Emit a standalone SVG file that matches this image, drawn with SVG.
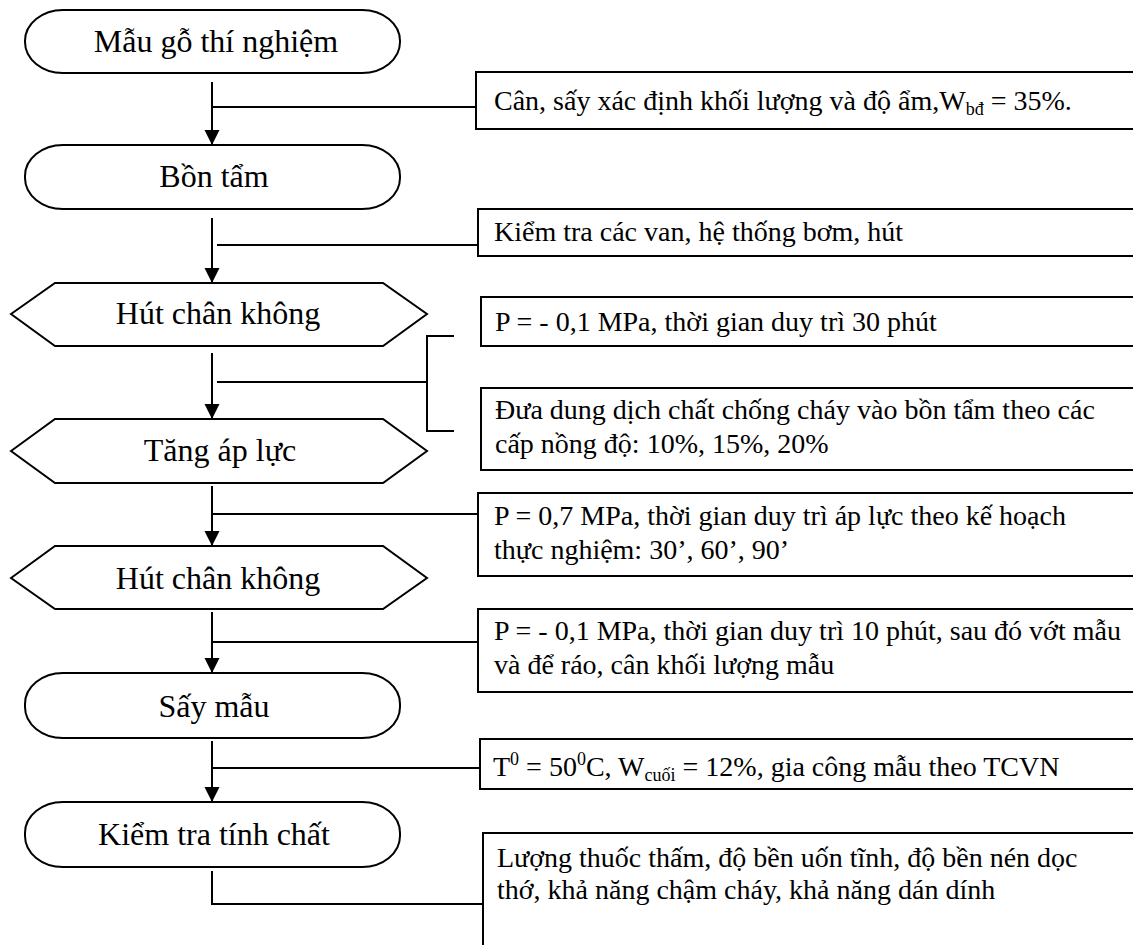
<svg xmlns="http://www.w3.org/2000/svg" width="1133" height="945" viewBox="0 0 1133 945">
<style>
  .shape { fill: #fff; stroke: #000; stroke-width: 2; }
  .box { fill: #fff; stroke: #000; stroke-width: 2; }
  .line { fill: none; stroke: #000; stroke-width: 2; }
  .ntext { font-family: "Liberation Serif", "Times New Roman", serif; font-size: 32px; fill: #000; text-anchor: middle; }
  .btext { font-family: "Liberation Serif", "Times New Roman", serif; font-size: 28px; fill: #000; }
  .small { font-size: 18px; }
</style>
<defs>
  <marker id="arrow" markerUnits="userSpaceOnUse" markerWidth="16" markerHeight="16" refX="15" refY="8" orient="auto">
    <path d="M0,0.5 L15,8 L0,15.5 Z" fill="#000"/>
  </marker>
</defs>
<rect width="1133" height="945" fill="#fff"/>

<g id="connectors">
  <line class="line" x1="212" y1="82" x2="212" y2="145" marker-end="url(#arrow)"/>
  <line class="line" x1="212" y1="107" x2="476" y2="107"/>
  <line class="line" x1="212" y1="218" x2="212" y2="283" marker-end="url(#arrow)"/>
  <line class="line" x1="217" y1="245" x2="478" y2="245"/>
  <line class="line" x1="212" y1="353" x2="212" y2="419" marker-end="url(#arrow)"/>
  <line class="line" x1="217" y1="382" x2="427" y2="382"/>
  <path class="line" d="M454,336 H427 V431 H454"/>
  <line class="line" x1="212" y1="486" x2="212" y2="546" marker-end="url(#arrow)"/>
  <line class="line" x1="213" y1="514" x2="478" y2="514"/>
  <line class="line" x1="212" y1="612" x2="212" y2="673" marker-end="url(#arrow)"/>
  <line class="line" x1="213" y1="642" x2="478" y2="642"/>
  <line class="line" x1="212" y1="741" x2="212" y2="802" marker-end="url(#arrow)"/>
  <line class="line" x1="213" y1="768" x2="480" y2="768"/>
  <path class="line" d="M212,871 V904 H483"/>
</g>

<g id="n1">
  <rect class="shape" x="25" y="10" width="375" height="63" rx="38" ry="31"/>
  <text class="ntext" x="216" y="52">Mẫu gỗ thí nghiệm</text>
</g>
<g id="n2">
  <rect class="shape" x="25" y="145" width="375" height="64" rx="38" ry="31"/>
  <text class="ntext" x="214" y="187">Bồn tẩm</text>
</g>
<g id="n3">
  <polygon class="shape" points="11,314 55,283 383,283 427,314 383,346 55,346"/>
  <text class="ntext" x="218" y="324">Hút chân không</text>
</g>
<g id="n4">
  <polygon class="shape" points="11,451 55,419 383,419 427,451 383,483 55,483"/>
  <text class="ntext" x="220" y="461">Tăng áp lực</text>
</g>
<g id="n5">
  <polygon class="shape" points="11,578 55,546 383,546 427,578 383,609 55,609"/>
  <text class="ntext" x="218" y="589">Hút chân không</text>
</g>
<g id="n6">
  <rect class="shape" x="25" y="673" width="375" height="65" rx="38" ry="31"/>
  <text class="ntext" x="214" y="717">Sấy mẫu</text>
</g>
<g id="n7">
  <rect class="shape" x="25" y="802" width="375" height="65" rx="38" ry="31"/>
  <text class="ntext" x="214" y="845">Kiểm tra tính chất</text>
</g>

<g id="b1">
  <rect class="box" x="476" y="72" width="670" height="57"/>
  <text class="btext" x="494" y="110">Cân, sấy xác định khối lượng và độ ẩm,W<tspan class="small" dy="5">bđ</tspan><tspan dy="-5"> = 35%.</tspan></text>
</g>
<g id="b2">
  <rect class="box" x="478" y="209" width="670" height="47"/>
  <text class="btext" x="494" y="241">Kiểm tra các van, hệ thống bơm, hút</text>
</g>
<g id="b3">
  <rect class="box" x="481" y="297" width="670" height="49"/>
  <text class="btext" x="495" y="331">P = - 0,1 MPa, thời gian duy trì 30 phút</text>
</g>
<g id="b4">
  <rect class="box" x="481" y="388" width="670" height="82"/>
  <text class="btext" x="495" y="419">Đưa dung dịch chất chống cháy vào bồn tẩm theo các</text>
  <text class="btext" x="495" y="453">cấp nồng độ: 10%, 15%, 20%</text>
</g>
<g id="b5">
  <rect class="box" x="478" y="493" width="670" height="83"/>
  <text class="btext" x="494" y="525">P = 0,7 MPa, thời gian duy trì áp lực theo kế hoạch</text>
  <text class="btext" x="494" y="559">thực nghiệm: 30’, 60’, 90’</text>
</g>
<g id="b6">
  <rect class="box" x="478" y="609" width="670" height="83"/>
  <text class="btext" x="494" y="640">P = - 0,1 MPa, thời gian duy trì 10 phút, sau đó vớt mẫu</text>
  <text class="btext" x="494" y="674">và để ráo, cân khối lượng mẫu</text>
</g>
<g id="b7">
  <rect class="box" x="480" y="739" width="670" height="50"/>
  <text class="btext" x="493" y="776">T<tspan class="small" dy="-11">0</tspan><tspan dy="11"> = 50</tspan><tspan class="small" dy="-11">0</tspan><tspan dy="11">C, W</tspan><tspan class="small" dy="5">cuối</tspan><tspan dy="-5"> = 12%, gia công mẫu theo TCVN</tspan></text>
</g>
<g id="b8">
  <rect class="box" x="483" y="833" width="670" height="130"/>
  <text class="btext" x="497" y="867">Lượng thuốc thấm, độ bền uốn tĩnh, độ bền nén dọc</text>
  <text class="btext" x="497" y="899">thớ, khả năng chậm cháy, khả năng dán dính</text>
</g>
</svg>
